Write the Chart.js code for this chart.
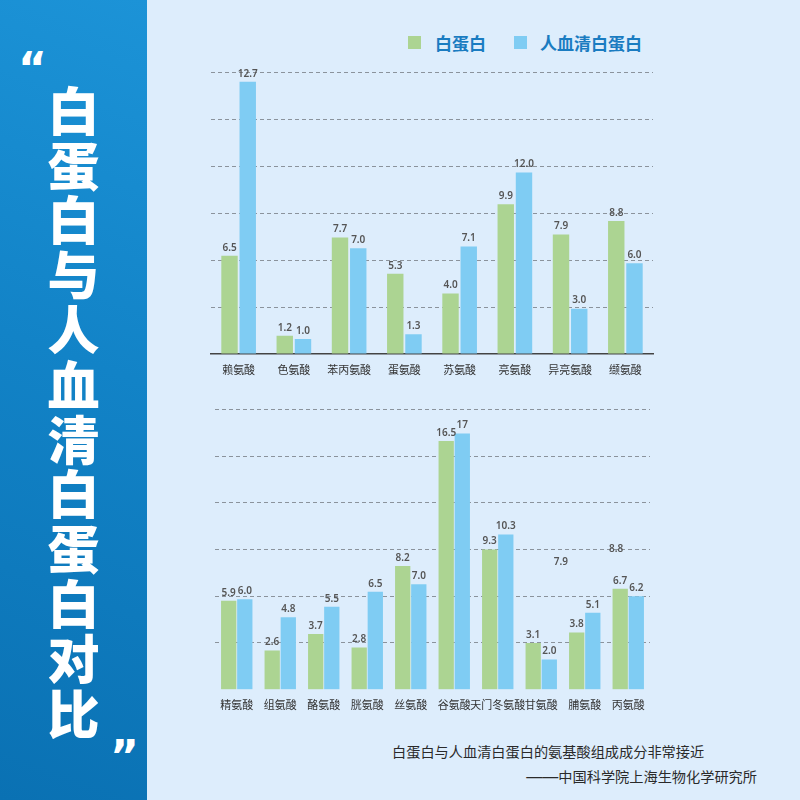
<!DOCTYPE html>
<html>
<head>
<meta charset="utf-8">
<script src="https://cdn.jsdelivr.net/npm/chart.js@4.4.1/dist/chart.umd.min.js"></script>
<style>
  body { margin: 0; width: 800px; height: 800px; position: relative; overflow: hidden;
         background: #ddedfc; font-family: "Noto Sans CJK SC", sans-serif; }
  #side { position: absolute; left: 0; top: 0; width: 147px; height: 800px;
          background: linear-gradient(200deg, #1c93d7 0%, #1283c7 45%, #0a71b3 100%); }
  #title { position: absolute; left: 45px; top: 85px; color: #fff; white-space: nowrap;
           writing-mode: vertical-rl; font-size: 52px; font-weight: 900; line-height: 56px;
           letter-spacing: 2.8px; }
  .q { position: absolute; color: #fff; font-size: 44px; font-weight: 900; line-height: 44px;
       font-family: "DejaVu Sans", sans-serif; }
  .box { position: absolute; }
  .foot { position: absolute; font-size: 14.2px; line-height: 20px; color: #2a2a2a; white-space: nowrap; }
  .dash { font-family: "Liberation Sans", sans-serif; font-size: 16px; }
  .lg { position: absolute; top: 33px; height: 20px; line-height: 20px; font-size: 17px; font-weight: bold;
        color: #1a7cc1; white-space: nowrap; }
  .sw { position: absolute; top: 36px; width: 13px; height: 13px; }
</style>
</head>
<body>
<div id="side">
  <div class="q" style="left:18px;top:47px">“</div>
  <div id="title">白蛋白与人血清白蛋白对比</div>
  <div class="q" style="left:110px;top:735px">”</div>
</div>

<div id="legend"></div>

<div class="box" style="left:150px;top:20px;width:520px;height:380px"><canvas id="topChart"></canvas></div>
<div class="box" style="left:150px;top:396px;width:520px;height:324px"><canvas id="bottomChart"></canvas></div>

<div class="foot" style="left:392px;top:741px">白蛋白与人血清白蛋白的氨基酸组成成分非常接近</div>
<div class="foot" style="right:43px;top:766px"><span class="dash">——</span>中国科学院上海生物化学研究所</div>

<script>
// 上图
const topCategories = ['赖氨酸', '色氨酸', '苯丙氨酸', '蛋氨酸', '苏氨酸', '亮氨酸', '异亮氨酸', '缬氨酸'];
const topAlbumin = [6.5, 1.2, 7.7, 5.3, 4.0, 9.9, 7.9, 8.8];
const topHuman = [18.0, 1.0, 7.0, 1.3, 7.1, 12.0, 3.0, 6.0];   // 赖氨酸柱子在原图中画得比标注高
const topAlbuminText = ['6.5', '1.2', '7.7', '5.3', '4.0', '9.9', '7.9', '8.8'];
const topHumanText = ['12.7', '1.0', '7.0', '1.3', '7.1', '12.0', '3.0', '6.0'];

// 下图
const bottomCategories = ['精氨酸', '组氨酸', '酪氨酸', '胱氨酸', '丝氨酸', '谷氨酸', '天门冬氨酸', '甘氨酸', '脯氨酸', '丙氨酸'];
const bottomAlbumin = [5.9, 2.6, 3.7, 2.8, 8.2, 16.5, 9.3, 3.1, 3.8, 6.7];
const bottomHuman = [6.0, 4.8, 5.5, 6.5, 7.0, 17, 10.3, 2.0, 5.1, 6.2];
const bottomAlbuminText = ['5.9', '2.6', '3.7', '2.8', '8.2', '16.5', '9.3', '3.1', '3.8', '6.7'];
const bottomHumanText = ['6.0', '4.8', '5.5', '6.5', '7.0', '17', '10.3', '2.0', '5.1', '6.2'];
// 下图中多出来的两个数字（位置按类别序号和数值）
const strayText = ['7.9', '8.8'];
const strayAt = [7.45, 8.72];
const strayValue = [7.9, 8.8];

const seriesNames = ['白蛋白', '人血清白蛋白'];
const GREEN = '#acd492';
const BLUE = '#7fccf3';
const Y_MAX = 18.6;
const Y_STEP = 3.1;

// 图例
const legendEl = document.getElementById('legend');
[[408, 435, GREEN], [514, 540, BLUE]].forEach((p, i) => {
    legendEl.insertAdjacentHTML('beforeend',
        '<div class="sw" style="left:' + p[0] + 'px;background:' + p[2] + '"></div>' +
        '<div class="lg" style="left:' + p[1] + 'px">' + seriesNames[i] + '</div>');
});

const barLabels = {
    id: 'barLabels',
    afterDatasetsDraw(chart, args, opts) {
        const ctx = chart.ctx;
        ctx.save();
        ctx.font = '600 10px "Noto Sans", sans-serif';
        ctx.fillStyle = '#555';
        ctx.textAlign = 'center';
        ctx.textBaseline = 'bottom';
        chart.data.datasets.forEach((ds, i) => {
            chart.getDatasetMeta(i).data.forEach((bar, j) => {
                ctx.fillText(opts.text[i][j], bar.x, bar.y - 3);
            });
        });
        (opts.stray || []).forEach(s => {
            ctx.fillText(s.text, chart.scales.x.getPixelForValue(s.at), chart.scales.y.getPixelForValue(s.value) - 3);
        });
        ctx.restore();
    }
};

function makeChart(id, labels, a, b, opt) {
    const ctx = document.getElementById(id).getContext('2d');
    return new Chart(ctx, {
        type: 'bar',
        data: {
            labels: labels,
            datasets: [
                { label: seriesNames[0], data: a, backgroundColor: GREEN,
                  categoryPercentage: opt.catPct, barPercentage: opt.barPct },
                { label: seriesNames[1], data: b, backgroundColor: BLUE,
                  categoryPercentage: opt.catPct, barPercentage: opt.barPct }
            ]
        },
        plugins: [barLabels],
        options: {
            responsive: true,
            maintainAspectRatio: false,
            animation: false,
            layout: { padding: opt.padding },
            plugins: {
                legend: { display: false },
                tooltip: { enabled: false },
                barLabels: { text: opt.text, stray: opt.stray }
            },
            scales: {
                x: {
                    afterFit: axis => { axis.height = 30; },
                    grid: { display: false, drawTicks: false },
                    border: opt.baseline ? { display: true, color: '#444', width: 1.5 } : { display: false },
                    ticks: { color: '#333', padding: 9, font: { size: 11, family: '"Noto Sans CJK SC"' }, maxRotation: 0, autoSkip: false }
                },
                y: {
                    min: 0,
                    max: Y_MAX,
                    afterBuildTicks: axis => {
                        axis.ticks = [0, 1, 2, 3, 4, 5, 6].map(i => ({ value: +(i * Y_STEP).toFixed(1) }));
                    },
                    ticks: { display: false },
                    border: { display: false, dash: [4, 3] },
                    grid: {
                        drawTicks: false,
                        color: c => c.tick.value === 0 ? 'rgba(0,0,0,0)' : '#8b939c',
                        lineWidth: 1
                    }
                }
            }
        }
    });
}

makeChart('topChart', topCategories, topAlbumin, topHuman, {
    catPct: 0.66, barPct: 0.9,
    padding: { left: 61, right: 17, top: 52.7, bottom: 16 },
    baseline: true,
    text: [topAlbuminText, topHumanText]
});

makeChart('bottomChart', bottomCategories, bottomAlbumin, bottomHuman, {
    catPct: 0.74, barPct: 0.95,
    padding: { left: 65, right: 20, top: 13.3, bottom: 0.3 },
    baseline: false,
    text: [bottomAlbuminText, bottomHumanText],
    stray: strayText.map((t, i) => ({ text: t, at: strayAt[i], value: strayValue[i] }))
});
</script>
</body>
</html>
